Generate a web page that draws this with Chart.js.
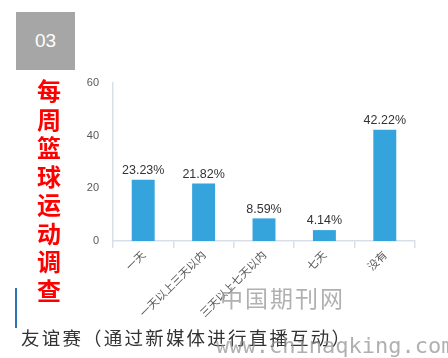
<!DOCTYPE html>
<html>
<head>
<meta charset="utf-8">
<script src="https://cdn.jsdelivr.net/npm/chart.js@4"></script>
<style>
  html, body { margin: 0; padding: 0; background: #fff; }
  #wrap { position: relative; width: 448px; height: 358px; overflow: hidden; }
  #chartBox { position: absolute; left: 0; top: 0; width: 448px; height: 358px; }
  .num { position: absolute; left: 16px; top: 12px; width: 59px; height: 58px; background: #a6a6a6;
         color: #fff; font: 19px 'Liberation Sans', sans-serif; text-align: center; line-height: 58px; }
  .title { position: absolute; left: 35px; top: 76px; width: 28px; color: #ff0000;
           font: bold 24px 'Noto Sans CJK SC', sans-serif; line-height: 28.5px; text-align: center; }
  .bar { position: absolute; left: 15px; top: 288px; width: 2px; height: 40px; background: #2e75b6; }
  .caption { position: absolute; left: 21px; top: 324px; color: #333; letter-spacing: 2.2px;
             font: 18.5px 'Noto Sans CJK SC', sans-serif; white-space: nowrap; }
  .wm1 { position: absolute; left: 220px; top: 280px; color: rgba(150,150,150,0.75);
         font: 23px 'Noto Sans CJK SC', serif; letter-spacing: 2px; }
  .wm2 { position: absolute; left: 216px; top: 333px; color: rgba(150,150,150,0.75);
         font: 22px 'DejaVu Sans Mono', monospace; white-space: nowrap; }
</style>
</head>
<body>
<div id="wrap">
  <div id="chartBox"><canvas id="surveyChart"></canvas></div>
  <div class="num">03</div>
  <div class="title">每<br>周<br>篮<br>球<br>运<br>动<br>调<br>查</div>
  <div class="bar"></div>
  <div class="caption">友谊赛（通过新媒体进行直播互动）</div>
  <div class="wm1">中国期刊网</div>
  <div class="wm2">www.chinaqking.com</div>
</div>
<script>
// weekly basketball frequency survey (%)
const categories = ["一天", "一天以上三天以内", "三天以上七天以内", "七天", "没有"];
const percentValues = [23.23, 21.82, 8.59, 4.14, 42.22];
const yTicks = [0, 20, 40, 60];

const barColor = "#35a3dc";
const tickColor = "#595959";

// draw the percent labels above each bar
const valueLabels = {
    id: 'valueLabels',
    afterDatasetsDraw(chart) {
        const ctx = chart.ctx;
        const meta = chart.getDatasetMeta(0);
        ctx.save();
        ctx.font = "12.5px 'Liberation Sans', sans-serif";
        ctx.fillStyle = "#333";
        ctx.textAlign = "center";
        ctx.textBaseline = "bottom";
        meta.data.forEach((bar, i) => {
            ctx.fillText(percentValues[i].toFixed(2) + "%", bar.x, bar.y - 3);
        });
        ctx.restore();
    }
};

new Chart(document.getElementById('surveyChart').getContext('2d'), {
    type: 'bar',
    data: {
        labels: categories,
        datasets: [{
            data: percentValues,
            backgroundColor: barColor,
            barPercentage: 0.38,
            categoryPercentage: 1
        }]
    },
    options: {
        responsive: true,
        maintainAspectRatio: false,
        animation: false,
        layout: { padding: { left: 80, top: 83, right: 33, bottom: 0 } },
        plugins: {
            legend: { display: false },
            tooltip: { enabled: false }
        },
        scales: {
            y: {
                min: 0,
                max: 60,
                afterBuildTicks: s => { s.ticks = yTicks.map(v => ({ value: v })); },
                afterFit: s => { s.width = 33; },
                grid: { display: false, drawTicks: false },
                border: { display: true, color: "#d9dfe8", width: 1.5 },
                ticks: { color: tickColor, padding: 14, font: { size: 11, family: "'Liberation Sans', sans-serif" } }
            },
            x: {
                afterFit: s => { s.height = 117; },
                grid: { display: true, drawOnChartArea: false, offset: true, tickLength: 7, color: "#d9dfe8", lineWidth: 1.5 },
                border: { display: true, color: "#d9dfe8", width: 1.5 },
                ticks: { color: tickColor, maxRotation: 45, minRotation: 45, autoSkip: false, padding: 0,
                         font: { size: 11, family: "'Noto Sans CJK SC', sans-serif" } }
            }
        }
    },
    plugins: [valueLabels]
});
</script>
</body>
</html>
